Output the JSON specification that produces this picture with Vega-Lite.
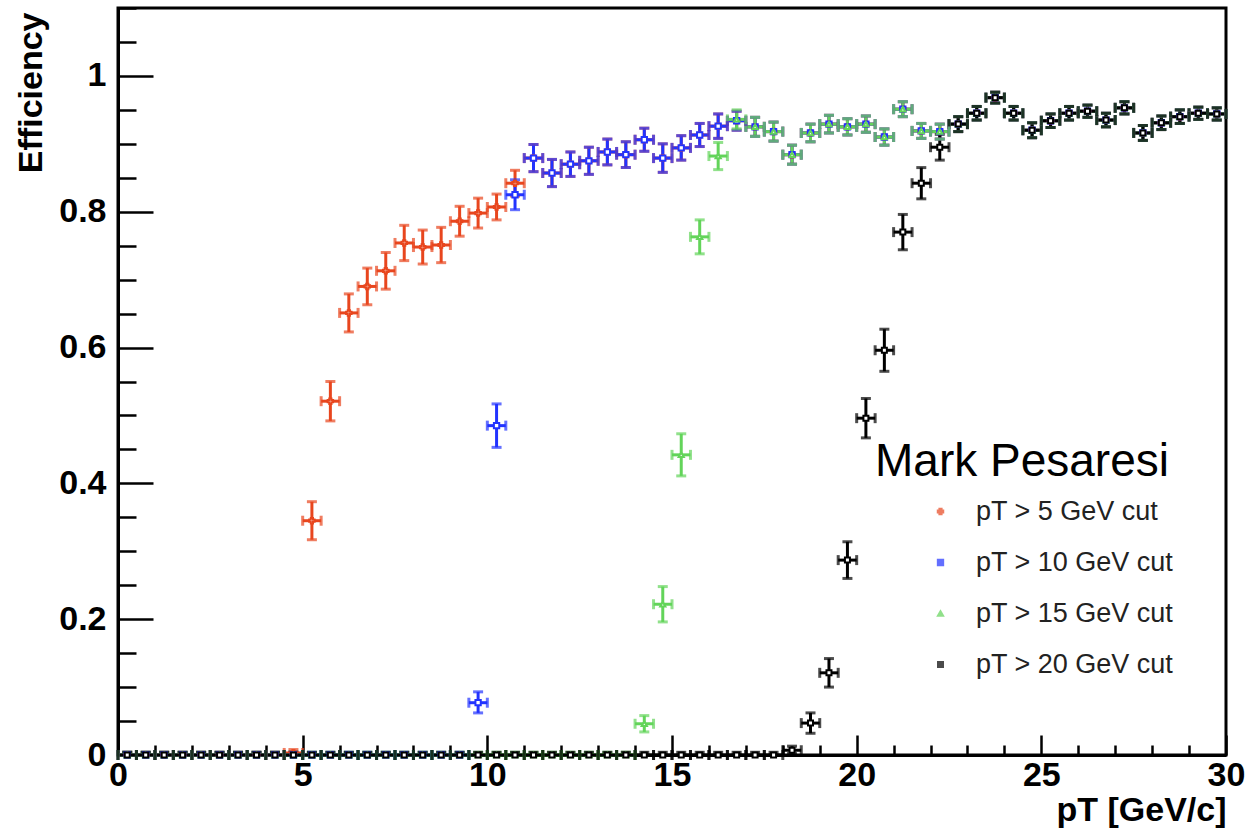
{
  "$schema": "https://vega.github.io/schema/vega-lite/v6.json",
  "width": 1108,
  "height": 747,
  "autosize": "none",
  "padding": {"left": 118, "top": 8, "right": 20, "bottom": 78},
  "background": "white",
  "config": {
    "view": {"stroke": "black", "strokeWidth": 3},
    "font": "Liberation Sans",
    "axis": {"grid": false, "domainColor": "black", "domainWidth": 3, "tickColor": "black", "tickWidth": 2.5, "labelColor": "black", "labelFont": "Liberation Sans", "labelFontWeight": "bold", "labelFontSize": 34, "titleFont": "Liberation Sans", "titleFontWeight": "bold", "titleFontSize": 34, "titleColor": "black", "labelOverlap": false, "labelSeparation": 0},
    "legend": {
      "orient": "none", "legendX": 757, "legendY": 432, "padding": 0,
      "titleFont": "Liberation Sans", "titleFontSize": 46, "titleFontWeight": "normal", "titleColor": "black", "titleLimit": 500, "titlePadding": 12,
      "labelFont": "Liberation Sans", "labelFontSize": 27, "labelColor": "#222222", "labelLimit": 400,
      "symbolOffset": 52, "labelOffset": 22, "rowPadding": 23, "symbolSize": 45, "symbolStrokeWidth": 2
    }
  },
  "data": {"values": [
    {"s":"5","x":0.25,"x0":0,"x1":0.5,"y":0,"lo":0,"hi":0.004},
    {"s":"5","x":0.75,"x0":0.5,"x1":1,"y":0,"lo":0,"hi":0.004},
    {"s":"5","x":1.25,"x0":1,"x1":1.5,"y":0,"lo":0,"hi":0.004},
    {"s":"5","x":1.75,"x0":1.5,"x1":2,"y":0,"lo":0,"hi":0.004},
    {"s":"5","x":2.25,"x0":2,"x1":2.5,"y":0,"lo":0,"hi":0.004},
    {"s":"5","x":2.75,"x0":2.5,"x1":3,"y":0,"lo":0,"hi":0.004},
    {"s":"5","x":3.25,"x0":3,"x1":3.5,"y":0,"lo":0,"hi":0.004},
    {"s":"5","x":3.75,"x0":3.5,"x1":4,"y":0,"lo":0,"hi":0.004},
    {"s":"5","x":4.25,"x0":4,"x1":4.5,"y":0,"lo":0,"hi":0.004},
    {"s":"5","x":4.75,"x0":4.5,"x1":5,"y":0.003,"lo":0,"hi":0.008},
    {"s":"5","x":5.25,"x0":5,"x1":5.5,"y":0.345,"lo":0.317,"hi":0.373},
    {"s":"5","x":5.75,"x0":5.5,"x1":6,"y":0.521,"lo":0.492,"hi":0.55},
    {"s":"5","x":6.25,"x0":6,"x1":6.5,"y":0.651,"lo":0.623,"hi":0.679},
    {"s":"5","x":6.75,"x0":6.5,"x1":7,"y":0.69,"lo":0.663,"hi":0.717},
    {"s":"5","x":7.25,"x0":7,"x1":7.5,"y":0.713,"lo":0.686,"hi":0.74},
    {"s":"5","x":7.75,"x0":7.5,"x1":8,"y":0.754,"lo":0.728,"hi":0.78},
    {"s":"5","x":8.25,"x0":8,"x1":8.5,"y":0.748,"lo":0.723,"hi":0.773},
    {"s":"5","x":8.75,"x0":8.5,"x1":9,"y":0.751,"lo":0.725,"hi":0.777},
    {"s":"5","x":9.25,"x0":9,"x1":9.5,"y":0.786,"lo":0.764,"hi":0.808},
    {"s":"5","x":9.75,"x0":9.5,"x1":10,"y":0.798,"lo":0.776,"hi":0.82},
    {"s":"5","x":10.25,"x0":10,"x1":10.5,"y":0.807,"lo":0.788,"hi":0.826},
    {"s":"5","x":10.75,"x0":10.5,"x1":11,"y":0.842,"lo":0.823,"hi":0.861},
    {"s":"5","x":11.25,"x0":11,"x1":11.5,"y":0.879,"lo":0.859,"hi":0.899},
    {"s":"5","x":11.75,"x0":11.5,"x1":12,"y":0.857,"lo":0.837,"hi":0.877},
    {"s":"5","x":12.25,"x0":12,"x1":12.5,"y":0.87,"lo":0.852,"hi":0.888},
    {"s":"5","x":12.75,"x0":12.5,"x1":13,"y":0.875,"lo":0.855,"hi":0.895},
    {"s":"5","x":13.25,"x0":13,"x1":13.5,"y":0.888,"lo":0.869,"hi":0.907},
    {"s":"5","x":13.75,"x0":13.5,"x1":14,"y":0.884,"lo":0.865,"hi":0.903},
    {"s":"5","x":14.25,"x0":14,"x1":14.5,"y":0.906,"lo":0.889,"hi":0.923},
    {"s":"5","x":14.75,"x0":14.5,"x1":15,"y":0.879,"lo":0.858,"hi":0.9},
    {"s":"5","x":15.25,"x0":15,"x1":15.5,"y":0.894,"lo":0.876,"hi":0.912},
    {"s":"5","x":15.75,"x0":15.5,"x1":16,"y":0.913,"lo":0.896,"hi":0.93},
    {"s":"5","x":16.25,"x0":16,"x1":16.5,"y":0.926,"lo":0.908,"hi":0.944},
    {"s":"5","x":16.75,"x0":16.5,"x1":17,"y":0.934,"lo":0.92,"hi":0.948},
    {"s":"5","x":17.25,"x0":17,"x1":17.5,"y":0.925,"lo":0.911,"hi":0.939},
    {"s":"5","x":17.75,"x0":17.5,"x1":18,"y":0.918,"lo":0.904,"hi":0.932},
    {"s":"5","x":18.25,"x0":18,"x1":18.5,"y":0.884,"lo":0.87,"hi":0.898},
    {"s":"5","x":18.75,"x0":18.5,"x1":19,"y":0.916,"lo":0.903,"hi":0.929},
    {"s":"5","x":19.25,"x0":19,"x1":19.5,"y":0.929,"lo":0.916,"hi":0.942},
    {"s":"5","x":19.75,"x0":19.5,"x1":20,"y":0.925,"lo":0.913,"hi":0.937},
    {"s":"5","x":20.25,"x0":20,"x1":20.5,"y":0.929,"lo":0.917,"hi":0.941},
    {"s":"5","x":20.75,"x0":20.5,"x1":21,"y":0.91,"lo":0.898,"hi":0.922},
    {"s":"5","x":21.25,"x0":21,"x1":21.5,"y":0.951,"lo":0.94,"hi":0.962},
    {"s":"5","x":21.75,"x0":21.5,"x1":22,"y":0.919,"lo":0.908,"hi":0.93},
    {"s":"5","x":22.25,"x0":22,"x1":22.5,"y":0.918,"lo":0.907,"hi":0.929},
    {"s":"5","x":22.75,"x0":22.5,"x1":23,"y":0.929,"lo":0.918,"hi":0.94},
    {"s":"5","x":23.25,"x0":23,"x1":23.5,"y":0.945,"lo":0.935,"hi":0.955},
    {"s":"5","x":23.75,"x0":23.5,"x1":24,"y":0.968,"lo":0.96,"hi":0.976},
    {"s":"5","x":24.25,"x0":24,"x1":24.5,"y":0.945,"lo":0.935,"hi":0.955},
    {"s":"5","x":24.75,"x0":24.5,"x1":25,"y":0.92,"lo":0.909,"hi":0.931},
    {"s":"5","x":25.25,"x0":25,"x1":25.5,"y":0.934,"lo":0.924,"hi":0.944},
    {"s":"5","x":25.75,"x0":25.5,"x1":26,"y":0.945,"lo":0.935,"hi":0.955},
    {"s":"5","x":26.25,"x0":26,"x1":26.5,"y":0.948,"lo":0.939,"hi":0.957},
    {"s":"5","x":26.75,"x0":26.5,"x1":27,"y":0.935,"lo":0.925,"hi":0.945},
    {"s":"5","x":27.25,"x0":27,"x1":27.5,"y":0.953,"lo":0.944,"hi":0.962},
    {"s":"5","x":27.75,"x0":27.5,"x1":28,"y":0.916,"lo":0.905,"hi":0.927},
    {"s":"5","x":28.25,"x0":28,"x1":28.5,"y":0.931,"lo":0.921,"hi":0.941},
    {"s":"5","x":28.75,"x0":28.5,"x1":29,"y":0.94,"lo":0.93,"hi":0.95},
    {"s":"5","x":29.25,"x0":29,"x1":29.5,"y":0.945,"lo":0.936,"hi":0.954},
    {"s":"5","x":29.75,"x0":29.5,"x1":30,"y":0.944,"lo":0.935,"hi":0.953},

    {"s":"10","x":0.25,"x0":0,"x1":0.5,"y":0,"lo":0,"hi":0.004},
    {"s":"10","x":0.75,"x0":0.5,"x1":1,"y":0,"lo":0,"hi":0.004},
    {"s":"10","x":1.25,"x0":1,"x1":1.5,"y":0,"lo":0,"hi":0.004},
    {"s":"10","x":1.75,"x0":1.5,"x1":2,"y":0,"lo":0,"hi":0.004},
    {"s":"10","x":2.25,"x0":2,"x1":2.5,"y":0,"lo":0,"hi":0.004},
    {"s":"10","x":2.75,"x0":2.5,"x1":3,"y":0,"lo":0,"hi":0.004},
    {"s":"10","x":3.25,"x0":3,"x1":3.5,"y":0,"lo":0,"hi":0.004},
    {"s":"10","x":3.75,"x0":3.5,"x1":4,"y":0,"lo":0,"hi":0.004},
    {"s":"10","x":4.25,"x0":4,"x1":4.5,"y":0,"lo":0,"hi":0.004},
    {"s":"10","x":4.75,"x0":4.5,"x1":5,"y":0,"lo":0,"hi":0.004},
    {"s":"10","x":5.25,"x0":5,"x1":5.5,"y":0,"lo":0,"hi":0.004},
    {"s":"10","x":5.75,"x0":5.5,"x1":6,"y":0,"lo":0,"hi":0.004},
    {"s":"10","x":6.25,"x0":6,"x1":6.5,"y":0,"lo":0,"hi":0.004},
    {"s":"10","x":6.75,"x0":6.5,"x1":7,"y":0,"lo":0,"hi":0.004},
    {"s":"10","x":7.25,"x0":7,"x1":7.5,"y":0,"lo":0,"hi":0.004},
    {"s":"10","x":7.75,"x0":7.5,"x1":8,"y":0,"lo":0,"hi":0.004},
    {"s":"10","x":8.25,"x0":8,"x1":8.5,"y":0,"lo":0,"hi":0.004},
    {"s":"10","x":8.75,"x0":8.5,"x1":9,"y":0,"lo":0,"hi":0.004},
    {"s":"10","x":9.25,"x0":9,"x1":9.5,"y":0,"lo":0,"hi":0.004},
    {"s":"10","x":9.75,"x0":9.5,"x1":10,"y":0.077,"lo":0.062,"hi":0.093},
    {"s":"10","x":10.25,"x0":10,"x1":10.5,"y":0.485,"lo":0.453,"hi":0.517},
    {"s":"10","x":10.75,"x0":10.5,"x1":11,"y":0.825,"lo":0.803,"hi":0.847},
    {"s":"10","x":11.25,"x0":11,"x1":11.5,"y":0.879,"lo":0.859,"hi":0.899},
    {"s":"10","x":11.75,"x0":11.5,"x1":12,"y":0.857,"lo":0.837,"hi":0.877},
    {"s":"10","x":12.25,"x0":12,"x1":12.5,"y":0.87,"lo":0.852,"hi":0.888},
    {"s":"10","x":12.75,"x0":12.5,"x1":13,"y":0.875,"lo":0.855,"hi":0.895},
    {"s":"10","x":13.25,"x0":13,"x1":13.5,"y":0.888,"lo":0.869,"hi":0.907},
    {"s":"10","x":13.75,"x0":13.5,"x1":14,"y":0.884,"lo":0.865,"hi":0.903},
    {"s":"10","x":14.25,"x0":14,"x1":14.5,"y":0.906,"lo":0.889,"hi":0.923},
    {"s":"10","x":14.75,"x0":14.5,"x1":15,"y":0.879,"lo":0.858,"hi":0.9},
    {"s":"10","x":15.25,"x0":15,"x1":15.5,"y":0.894,"lo":0.876,"hi":0.912},
    {"s":"10","x":15.75,"x0":15.5,"x1":16,"y":0.913,"lo":0.896,"hi":0.93},
    {"s":"10","x":16.25,"x0":16,"x1":16.5,"y":0.926,"lo":0.908,"hi":0.944},
    {"s":"10","x":16.75,"x0":16.5,"x1":17,"y":0.934,"lo":0.92,"hi":0.948},
    {"s":"10","x":17.25,"x0":17,"x1":17.5,"y":0.925,"lo":0.911,"hi":0.939},
    {"s":"10","x":17.75,"x0":17.5,"x1":18,"y":0.918,"lo":0.904,"hi":0.932},
    {"s":"10","x":18.25,"x0":18,"x1":18.5,"y":0.884,"lo":0.87,"hi":0.898},
    {"s":"10","x":18.75,"x0":18.5,"x1":19,"y":0.916,"lo":0.903,"hi":0.929},
    {"s":"10","x":19.25,"x0":19,"x1":19.5,"y":0.929,"lo":0.916,"hi":0.942},
    {"s":"10","x":19.75,"x0":19.5,"x1":20,"y":0.925,"lo":0.913,"hi":0.937},
    {"s":"10","x":20.25,"x0":20,"x1":20.5,"y":0.929,"lo":0.917,"hi":0.941},
    {"s":"10","x":20.75,"x0":20.5,"x1":21,"y":0.91,"lo":0.898,"hi":0.922},
    {"s":"10","x":21.25,"x0":21,"x1":21.5,"y":0.951,"lo":0.94,"hi":0.962},
    {"s":"10","x":21.75,"x0":21.5,"x1":22,"y":0.919,"lo":0.908,"hi":0.93},
    {"s":"10","x":22.25,"x0":22,"x1":22.5,"y":0.918,"lo":0.907,"hi":0.929},
    {"s":"10","x":22.75,"x0":22.5,"x1":23,"y":0.929,"lo":0.918,"hi":0.94},
    {"s":"10","x":23.25,"x0":23,"x1":23.5,"y":0.945,"lo":0.935,"hi":0.955},
    {"s":"10","x":23.75,"x0":23.5,"x1":24,"y":0.968,"lo":0.96,"hi":0.976},
    {"s":"10","x":24.25,"x0":24,"x1":24.5,"y":0.945,"lo":0.935,"hi":0.955},
    {"s":"10","x":24.75,"x0":24.5,"x1":25,"y":0.92,"lo":0.909,"hi":0.931},
    {"s":"10","x":25.25,"x0":25,"x1":25.5,"y":0.934,"lo":0.924,"hi":0.944},
    {"s":"10","x":25.75,"x0":25.5,"x1":26,"y":0.945,"lo":0.935,"hi":0.955},
    {"s":"10","x":26.25,"x0":26,"x1":26.5,"y":0.948,"lo":0.939,"hi":0.957},
    {"s":"10","x":26.75,"x0":26.5,"x1":27,"y":0.935,"lo":0.925,"hi":0.945},
    {"s":"10","x":27.25,"x0":27,"x1":27.5,"y":0.953,"lo":0.944,"hi":0.962},
    {"s":"10","x":27.75,"x0":27.5,"x1":28,"y":0.916,"lo":0.905,"hi":0.927},
    {"s":"10","x":28.25,"x0":28,"x1":28.5,"y":0.931,"lo":0.921,"hi":0.941},
    {"s":"10","x":28.75,"x0":28.5,"x1":29,"y":0.94,"lo":0.93,"hi":0.95},
    {"s":"10","x":29.25,"x0":29,"x1":29.5,"y":0.945,"lo":0.936,"hi":0.954},
    {"s":"10","x":29.75,"x0":29.5,"x1":30,"y":0.944,"lo":0.935,"hi":0.953},

    {"s":"15","x":0.25,"x0":0,"x1":0.5,"y":0,"lo":0,"hi":0.004},
    {"s":"15","x":0.75,"x0":0.5,"x1":1,"y":0,"lo":0,"hi":0.004},
    {"s":"15","x":1.25,"x0":1,"x1":1.5,"y":0,"lo":0,"hi":0.004},
    {"s":"15","x":1.75,"x0":1.5,"x1":2,"y":0,"lo":0,"hi":0.004},
    {"s":"15","x":2.25,"x0":2,"x1":2.5,"y":0,"lo":0,"hi":0.004},
    {"s":"15","x":2.75,"x0":2.5,"x1":3,"y":0,"lo":0,"hi":0.004},
    {"s":"15","x":3.25,"x0":3,"x1":3.5,"y":0,"lo":0,"hi":0.004},
    {"s":"15","x":3.75,"x0":3.5,"x1":4,"y":0,"lo":0,"hi":0.004},
    {"s":"15","x":4.25,"x0":4,"x1":4.5,"y":0,"lo":0,"hi":0.004},
    {"s":"15","x":4.75,"x0":4.5,"x1":5,"y":0,"lo":0,"hi":0.004},
    {"s":"15","x":5.25,"x0":5,"x1":5.5,"y":0,"lo":0,"hi":0.004},
    {"s":"15","x":5.75,"x0":5.5,"x1":6,"y":0,"lo":0,"hi":0.004},
    {"s":"15","x":6.25,"x0":6,"x1":6.5,"y":0,"lo":0,"hi":0.004},
    {"s":"15","x":6.75,"x0":6.5,"x1":7,"y":0,"lo":0,"hi":0.004},
    {"s":"15","x":7.25,"x0":7,"x1":7.5,"y":0,"lo":0,"hi":0.004},
    {"s":"15","x":7.75,"x0":7.5,"x1":8,"y":0,"lo":0,"hi":0.004},
    {"s":"15","x":8.25,"x0":8,"x1":8.5,"y":0,"lo":0,"hi":0.004},
    {"s":"15","x":8.75,"x0":8.5,"x1":9,"y":0,"lo":0,"hi":0.004},
    {"s":"15","x":9.25,"x0":9,"x1":9.5,"y":0,"lo":0,"hi":0.004},
    {"s":"15","x":9.75,"x0":9.5,"x1":10,"y":0,"lo":0,"hi":0.004},
    {"s":"15","x":10.25,"x0":10,"x1":10.5,"y":0,"lo":0,"hi":0.004},
    {"s":"15","x":10.75,"x0":10.5,"x1":11,"y":0,"lo":0,"hi":0.004},
    {"s":"15","x":11.25,"x0":11,"x1":11.5,"y":0,"lo":0,"hi":0.004},
    {"s":"15","x":11.75,"x0":11.5,"x1":12,"y":0,"lo":0,"hi":0.004},
    {"s":"15","x":12.25,"x0":12,"x1":12.5,"y":0,"lo":0,"hi":0.004},
    {"s":"15","x":12.75,"x0":12.5,"x1":13,"y":0,"lo":0,"hi":0.004},
    {"s":"15","x":13.25,"x0":13,"x1":13.5,"y":0,"lo":0,"hi":0.004},
    {"s":"15","x":13.75,"x0":13.5,"x1":14,"y":0,"lo":0,"hi":0.004},
    {"s":"15","x":14.25,"x0":14,"x1":14.5,"y":0.046,"lo":0.034,"hi":0.058},
    {"s":"15","x":14.75,"x0":14.5,"x1":15,"y":0.222,"lo":0.196,"hi":0.248},
    {"s":"15","x":15.25,"x0":15,"x1":15.5,"y":0.442,"lo":0.411,"hi":0.473},
    {"s":"15","x":15.75,"x0":15.5,"x1":16,"y":0.763,"lo":0.738,"hi":0.788},
    {"s":"15","x":16.25,"x0":16,"x1":16.5,"y":0.882,"lo":0.862,"hi":0.902},
    {"s":"15","x":16.75,"x0":16.5,"x1":17,"y":0.936,"lo":0.922,"hi":0.95},
    {"s":"15","x":17.25,"x0":17,"x1":17.5,"y":0.925,"lo":0.911,"hi":0.939},
    {"s":"15","x":17.75,"x0":17.5,"x1":18,"y":0.918,"lo":0.904,"hi":0.932},
    {"s":"15","x":18.25,"x0":18,"x1":18.5,"y":0.884,"lo":0.87,"hi":0.898},
    {"s":"15","x":18.75,"x0":18.5,"x1":19,"y":0.916,"lo":0.903,"hi":0.929},
    {"s":"15","x":19.25,"x0":19,"x1":19.5,"y":0.929,"lo":0.916,"hi":0.942},
    {"s":"15","x":19.75,"x0":19.5,"x1":20,"y":0.925,"lo":0.913,"hi":0.937},
    {"s":"15","x":20.25,"x0":20,"x1":20.5,"y":0.929,"lo":0.917,"hi":0.941},
    {"s":"15","x":20.75,"x0":20.5,"x1":21,"y":0.91,"lo":0.898,"hi":0.922},
    {"s":"15","x":21.25,"x0":21,"x1":21.5,"y":0.951,"lo":0.94,"hi":0.962},
    {"s":"15","x":21.75,"x0":21.5,"x1":22,"y":0.919,"lo":0.908,"hi":0.93},
    {"s":"15","x":22.25,"x0":22,"x1":22.5,"y":0.918,"lo":0.907,"hi":0.929},
    {"s":"15","x":22.75,"x0":22.5,"x1":23,"y":0.929,"lo":0.918,"hi":0.94},
    {"s":"15","x":23.25,"x0":23,"x1":23.5,"y":0.945,"lo":0.935,"hi":0.955},
    {"s":"15","x":23.75,"x0":23.5,"x1":24,"y":0.968,"lo":0.96,"hi":0.976},
    {"s":"15","x":24.25,"x0":24,"x1":24.5,"y":0.945,"lo":0.935,"hi":0.955},
    {"s":"15","x":24.75,"x0":24.5,"x1":25,"y":0.92,"lo":0.909,"hi":0.931},
    {"s":"15","x":25.25,"x0":25,"x1":25.5,"y":0.934,"lo":0.924,"hi":0.944},
    {"s":"15","x":25.75,"x0":25.5,"x1":26,"y":0.945,"lo":0.935,"hi":0.955},
    {"s":"15","x":26.25,"x0":26,"x1":26.5,"y":0.948,"lo":0.939,"hi":0.957},
    {"s":"15","x":26.75,"x0":26.5,"x1":27,"y":0.935,"lo":0.925,"hi":0.945},
    {"s":"15","x":27.25,"x0":27,"x1":27.5,"y":0.953,"lo":0.944,"hi":0.962},
    {"s":"15","x":27.75,"x0":27.5,"x1":28,"y":0.916,"lo":0.905,"hi":0.927},
    {"s":"15","x":28.25,"x0":28,"x1":28.5,"y":0.931,"lo":0.921,"hi":0.941},
    {"s":"15","x":28.75,"x0":28.5,"x1":29,"y":0.94,"lo":0.93,"hi":0.95},
    {"s":"15","x":29.25,"x0":29,"x1":29.5,"y":0.945,"lo":0.936,"hi":0.954},
    {"s":"15","x":29.75,"x0":29.5,"x1":30,"y":0.944,"lo":0.935,"hi":0.953},

    {"s":"20","x":0.25,"x0":0,"x1":0.5,"y":0,"lo":0,"hi":0.004},
    {"s":"20","x":0.75,"x0":0.5,"x1":1,"y":0,"lo":0,"hi":0.004},
    {"s":"20","x":1.25,"x0":1,"x1":1.5,"y":0,"lo":0,"hi":0.004},
    {"s":"20","x":1.75,"x0":1.5,"x1":2,"y":0,"lo":0,"hi":0.004},
    {"s":"20","x":2.25,"x0":2,"x1":2.5,"y":0,"lo":0,"hi":0.004},
    {"s":"20","x":2.75,"x0":2.5,"x1":3,"y":0,"lo":0,"hi":0.004},
    {"s":"20","x":3.25,"x0":3,"x1":3.5,"y":0,"lo":0,"hi":0.004},
    {"s":"20","x":3.75,"x0":3.5,"x1":4,"y":0,"lo":0,"hi":0.004},
    {"s":"20","x":4.25,"x0":4,"x1":4.5,"y":0,"lo":0,"hi":0.004},
    {"s":"20","x":4.75,"x0":4.5,"x1":5,"y":0,"lo":0,"hi":0.004},
    {"s":"20","x":5.25,"x0":5,"x1":5.5,"y":0,"lo":0,"hi":0.004},
    {"s":"20","x":5.75,"x0":5.5,"x1":6,"y":0,"lo":0,"hi":0.004},
    {"s":"20","x":6.25,"x0":6,"x1":6.5,"y":0,"lo":0,"hi":0.004},
    {"s":"20","x":6.75,"x0":6.5,"x1":7,"y":0,"lo":0,"hi":0.004},
    {"s":"20","x":7.25,"x0":7,"x1":7.5,"y":0,"lo":0,"hi":0.004},
    {"s":"20","x":7.75,"x0":7.5,"x1":8,"y":0,"lo":0,"hi":0.004},
    {"s":"20","x":8.25,"x0":8,"x1":8.5,"y":0,"lo":0,"hi":0.004},
    {"s":"20","x":8.75,"x0":8.5,"x1":9,"y":0,"lo":0,"hi":0.004},
    {"s":"20","x":9.25,"x0":9,"x1":9.5,"y":0,"lo":0,"hi":0.004},
    {"s":"20","x":9.75,"x0":9.5,"x1":10,"y":0,"lo":0,"hi":0.004},
    {"s":"20","x":10.25,"x0":10,"x1":10.5,"y":0,"lo":0,"hi":0.004},
    {"s":"20","x":10.75,"x0":10.5,"x1":11,"y":0,"lo":0,"hi":0.004},
    {"s":"20","x":11.25,"x0":11,"x1":11.5,"y":0,"lo":0,"hi":0.004},
    {"s":"20","x":11.75,"x0":11.5,"x1":12,"y":0,"lo":0,"hi":0.004},
    {"s":"20","x":12.25,"x0":12,"x1":12.5,"y":0,"lo":0,"hi":0.004},
    {"s":"20","x":12.75,"x0":12.5,"x1":13,"y":0,"lo":0,"hi":0.004},
    {"s":"20","x":13.25,"x0":13,"x1":13.5,"y":0,"lo":0,"hi":0.004},
    {"s":"20","x":13.75,"x0":13.5,"x1":14,"y":0,"lo":0,"hi":0.004},
    {"s":"20","x":14.25,"x0":14,"x1":14.5,"y":0,"lo":0,"hi":0.004},
    {"s":"20","x":14.75,"x0":14.5,"x1":15,"y":0,"lo":0,"hi":0.004},
    {"s":"20","x":15.25,"x0":15,"x1":15.5,"y":0,"lo":0,"hi":0.004},
    {"s":"20","x":15.75,"x0":15.5,"x1":16,"y":0,"lo":0,"hi":0.004},
    {"s":"20","x":16.25,"x0":16,"x1":16.5,"y":0,"lo":0,"hi":0.004},
    {"s":"20","x":16.75,"x0":16.5,"x1":17,"y":0,"lo":0,"hi":0.004},
    {"s":"20","x":17.25,"x0":17,"x1":17.5,"y":0,"lo":0,"hi":0.004},
    {"s":"20","x":17.75,"x0":17.5,"x1":18,"y":0,"lo":0,"hi":0.004},
    {"s":"20","x":18.25,"x0":18,"x1":18.5,"y":0.007,"lo":0.002,"hi":0.013},
    {"s":"20","x":18.75,"x0":18.5,"x1":19,"y":0.047,"lo":0.032,"hi":0.062},
    {"s":"20","x":19.25,"x0":19,"x1":19.5,"y":0.121,"lo":0.1,"hi":0.142},
    {"s":"20","x":19.75,"x0":19.5,"x1":20,"y":0.287,"lo":0.26,"hi":0.314},
    {"s":"20","x":20.25,"x0":20,"x1":20.5,"y":0.496,"lo":0.467,"hi":0.525},
    {"s":"20","x":20.75,"x0":20.5,"x1":21,"y":0.596,"lo":0.565,"hi":0.627},
    {"s":"20","x":21.25,"x0":21,"x1":21.5,"y":0.77,"lo":0.744,"hi":0.796},
    {"s":"20","x":21.75,"x0":21.5,"x1":22,"y":0.842,"lo":0.819,"hi":0.865},
    {"s":"20","x":22.25,"x0":22,"x1":22.5,"y":0.895,"lo":0.876,"hi":0.914},
    {"s":"20","x":22.75,"x0":22.5,"x1":23,"y":0.929,"lo":0.918,"hi":0.94},
    {"s":"20","x":23.25,"x0":23,"x1":23.5,"y":0.945,"lo":0.935,"hi":0.955},
    {"s":"20","x":23.75,"x0":23.5,"x1":24,"y":0.968,"lo":0.96,"hi":0.976},
    {"s":"20","x":24.25,"x0":24,"x1":24.5,"y":0.945,"lo":0.935,"hi":0.955},
    {"s":"20","x":24.75,"x0":24.5,"x1":25,"y":0.92,"lo":0.909,"hi":0.931},
    {"s":"20","x":25.25,"x0":25,"x1":25.5,"y":0.934,"lo":0.924,"hi":0.944},
    {"s":"20","x":25.75,"x0":25.5,"x1":26,"y":0.945,"lo":0.935,"hi":0.955},
    {"s":"20","x":26.25,"x0":26,"x1":26.5,"y":0.948,"lo":0.939,"hi":0.957},
    {"s":"20","x":26.75,"x0":26.5,"x1":27,"y":0.935,"lo":0.925,"hi":0.945},
    {"s":"20","x":27.25,"x0":27,"x1":27.5,"y":0.953,"lo":0.944,"hi":0.962},
    {"s":"20","x":27.75,"x0":27.5,"x1":28,"y":0.916,"lo":0.905,"hi":0.927},
    {"s":"20","x":28.25,"x0":28,"x1":28.5,"y":0.931,"lo":0.921,"hi":0.941},
    {"s":"20","x":28.75,"x0":28.5,"x1":29,"y":0.94,"lo":0.93,"hi":0.95},
    {"s":"20","x":29.25,"x0":29,"x1":29.5,"y":0.945,"lo":0.936,"hi":0.954},
    {"s":"20","x":29.75,"x0":29.5,"x1":30,"y":0.944,"lo":0.935,"hi":0.953}
  ]},
  "layer": [
    {
      "mark": {"type": "rule", "strokeWidth": 3},
      "encoding": {
        "x": {"field": "x", "type": "quantitative", "title": "pT [GeV/c]", "scale": {"domain": [0, 30], "nice": false, "zero": false},
          "axis": {"values": [0,1,2,3,4,5,6,7,8,9,10,11,12,13,14,15,16,17,18,19,20,21,22,23,24,25,26,27,28,29,30],
            "tickCount": 200,
            "labelExpr": "datum.value % 5 === 0 ? format(datum.value, 'd') : ''",
            "labelFontSize": {"condition": {"test": "datum.value % 5 === 0", "value": 34}, "value": 1},
            "tickSize": {"condition": {"test": "datum.value % 5 === 0", "value": -20}, "value": -10},
            "labelPadding": 23, "labelFlush": false, "labelOverlap": false,
            "titleAnchor": "end", "titleAlign": "right", "titleX": 1108, "titleY": 65, "titleBaseline": "alphabetic"}},
        "y": {"field": "lo", "type": "quantitative", "title": "Efficiency", "scale": {"domain": [0, 1.1], "nice": false, "zero": false},
          "axis": {"values": [0,0.05,0.1,0.15,0.2,0.25,0.3,0.35,0.4,0.45,0.5,0.55,0.6,0.65,0.7,0.75,0.8,0.85,0.9,0.95,1,1.05,1.1],
            "tickCount": 200,
            "labelExpr": "round(datum.value*100) % 20 === 0 ? (datum.value === 0 ? '0' : datum.value === 1 ? '1' : format(datum.value, '.1f')) : ''",
            "labelFontSize": {"condition": {"test": "round(datum.value*100) % 20 === 0", "value": 34}, "value": 1},
            "tickSize": {"condition": {"test": "round(datum.value*100) % 20 === 0", "value": -35}, "value": -18},
            "labelPadding": 47, "labelFlush": false, "labelOverlap": false,
            "titleAngle": -90, "titleAlign": "right", "titleBaseline": "middle", "titleX": -87, "titleY": 4}},
        "y2": {"field": "hi"},
        "color": {"field": "s", "type": "nominal", "scale": {"domain": ["5","10","15","20"], "range": ["#e8461e","#2233ff","#63d45a","#000000"]},
          "legend": {"title": "Mark Pesaresi", "labelExpr": "'pT > ' + datum.label + ' GeV cut'"}}
      }
    },
    {
      "mark": {"type": "tick", "orient": "horizontal", "size": 10, "thickness": 3},
      "encoding": {
        "x": {"field": "x", "type": "quantitative", "title": "pT [GeV/c]", "scale": {"domain": [0, 30], "nice": false, "zero": false}},
        "y": {"field": "lo", "type": "quantitative", "title": "Efficiency", "scale": {"domain": [0, 1.1], "nice": false, "zero": false}},
        "color": {"field": "s", "type": "nominal"}
      }
    },
    {
      "mark": {"type": "tick", "orient": "horizontal", "size": 10, "thickness": 3},
      "encoding": {
        "x": {"field": "x", "type": "quantitative", "title": "pT [GeV/c]", "scale": {"domain": [0, 30], "nice": false, "zero": false}},
        "y": {"field": "hi", "type": "quantitative", "title": "Efficiency", "scale": {"domain": [0, 1.1], "nice": false, "zero": false}},
        "color": {"field": "s", "type": "nominal"}
      }
    },
    {
      "mark": {"type": "rule", "strokeWidth": 3},
      "encoding": {
        "x": {"field": "x0", "type": "quantitative", "title": "pT [GeV/c]", "scale": {"domain": [0, 30], "nice": false, "zero": false}},
        "x2": {"field": "x1"},
        "y": {"field": "y", "type": "quantitative", "title": "Efficiency", "scale": {"domain": [0, 1.1], "nice": false, "zero": false}},
        "color": {"field": "s", "type": "nominal"}
      }
    },
    {
      "mark": {"type": "tick", "orient": "vertical", "size": 10, "thickness": 3},
      "encoding": {
        "x": {"field": "x0", "type": "quantitative", "title": "pT [GeV/c]", "scale": {"domain": [0, 30], "nice": false, "zero": false}},
        "y": {"field": "y", "type": "quantitative", "title": "Efficiency", "scale": {"domain": [0, 1.1], "nice": false, "zero": false}},
        "color": {"field": "s", "type": "nominal"}
      }
    },
    {
      "mark": {"type": "tick", "orient": "vertical", "size": 10, "thickness": 3},
      "encoding": {
        "x": {"field": "x1", "type": "quantitative", "title": "pT [GeV/c]", "scale": {"domain": [0, 30], "nice": false, "zero": false}},
        "y": {"field": "y", "type": "quantitative", "title": "Efficiency", "scale": {"domain": [0, 1.1], "nice": false, "zero": false}},
        "color": {"field": "s", "type": "nominal"}
      }
    },
    {
      "mark": {"type": "point", "filled": false, "fill": "white", "strokeWidth": 2, "opacity": 1},
      "encoding": {
        "x": {"field": "x", "type": "quantitative", "title": "pT [GeV/c]", "scale": {"domain": [0, 30], "nice": false, "zero": false}},
        "y": {"field": "y", "type": "quantitative", "title": "Efficiency", "scale": {"domain": [0, 1.1], "nice": false, "zero": false}},
        "color": {"field": "s", "type": "nominal"},
        "shape": {"field": "s", "type": "nominal", "scale": {"domain": ["5","10","15","20"], "range": ["cross","square","triangle-up","square"]}},
        "size": {"field": "s", "type": "nominal", "scale": {"domain": ["5","10","15","20"], "range": [30, 25, 35, 50]}, "legend": null}
      }
    }
  ]
}
